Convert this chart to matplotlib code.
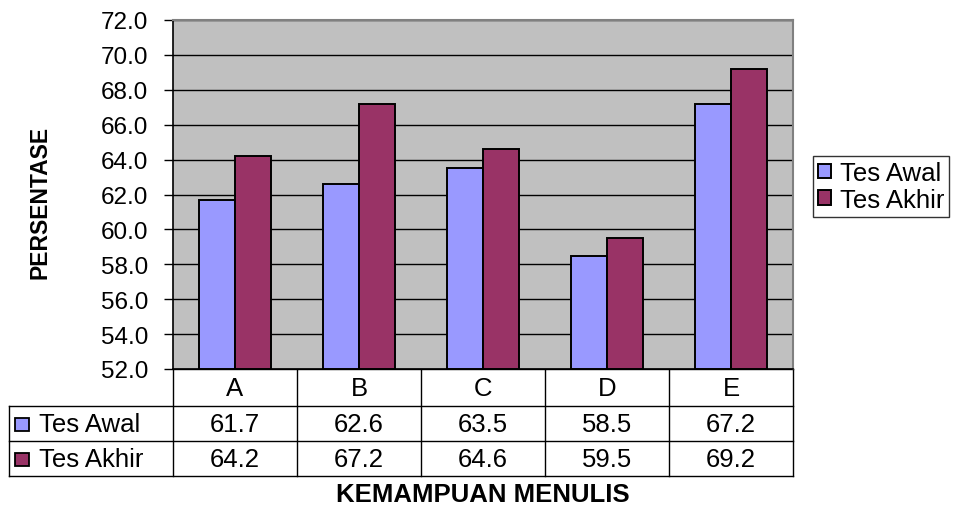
import matplotlib
matplotlib.use("Agg")
import matplotlib.pyplot as plt
import numpy as np

plt.rcParams["font.family"] = ["Liberation Sans", "DejaVu Sans"]

categories = ["A", "B", "C", "D", "E"]
series_names = ["Tes Awal", "Tes Akhir"]
tes_awal = [61.7, 62.6, 63.5, 58.5, 67.2]
tes_akhir = [64.2, 67.2, 64.6, 59.5, 69.2]
yticks = np.arange(52.0, 72.01, 2.0)
colors = ["#9999FF", "#993366"]

W, H = 979, 506
fig = plt.figure(figsize=(W / 100, H / 100), dpi=100)

# plot area in pixels
PL, PR, PT, PB = 173, 793, 21, 370
ax = fig.add_axes([PL / W, 1 - PB / H, (PR - PL) / W, (PB - PT) / H])
ax.set_facecolor("#C0C0C0")
ax.set_xlim(-0.5, len(categories) - 0.5)
ax.set_ylim(52, 72)
ax.set_yticks(yticks)
ax.set_yticklabels([f"{v:.1f}" for v in yticks], fontsize=17.5)
ax.yaxis.grid(True, color="black", lw=1.0)
ax.set_axisbelow(True)
ax.set_xticks([])
ax.tick_params(axis="y", length=6.5, width=1, pad=11.5, direction="out")
for s in ("top", "right"):
    ax.spines[s].set_color("#808080")
    ax.spines[s].set_linewidth(1.5)
ax.spines["left"].set_linewidth(1.2)
ax.spines["bottom"].set_linewidth(1.2)

x = np.arange(len(categories))
bw = 0.29
for i, (vals, c, name) in enumerate(zip([tes_awal, tes_akhir], colors, series_names)):
    ax.bar(x + (i - 0.5) * bw, [v - 52 for v in vals], bw, bottom=52, color=c,
           edgecolor="black", lw=1.4, label=name, zorder=3)

ax.set_ylabel("PERSENTASE", fontsize=16.5, fontweight="bold")
ax.yaxis.set_label_coords((51 - PL) / (PR - PL), 1 - (202 - PT) / (PB - PT))

leg = ax.legend(loc="upper left", bbox_to_anchor=(813 / W, 1 - 157 / H),
                bbox_transform=fig.transFigure, fontsize=18.5,
                frameon=True, fancybox=False, edgecolor="black", handlelength=0.5,
                handleheight=0.5, handletextpad=0.35, borderpad=0.2, labelspacing=0.1,
                borderaxespad=0)
leg.get_frame().set_linewidth(1.0)

# data table below the plot, drawn in pixel coords
tx = fig.add_axes([0, 0, 1, 1], zorder=-1)
tx.set_xlim(0, W); tx.set_ylim(H, 0); tx.axis("off")
TL = 9
rows = [370, 407, 442, 477]
cw = (PR - PL) / len(categories)
cols = [PL + k * cw for k in range(len(categories) + 1)]
lc = "black"; lw = 1.0
tx.plot([PL, PR], [rows[0], rows[0]], color=lc, lw=lw)
for cx in cols:
    tx.plot([cx, cx], [rows[0], rows[3]], color=lc, lw=lw)
for ry in rows[1:]:
    tx.plot([TL, PR], [ry, ry], color=lc, lw=lw)
tx.plot([TL, TL], [rows[1], rows[3]], color=lc, lw=lw)
for k, cat in enumerate(categories):
    tx.text((cols[k] + cols[k + 1]) / 2, (rows[0] + rows[1]) / 2 + 1, cat,
            ha="center", va="center", fontsize=18.5)
for r, (vals, c, name) in enumerate(zip([tes_awal, tes_akhir], colors, series_names)):
    yc = (rows[r + 1] + rows[r + 2]) / 2 + 1
    tx.add_patch(plt.Rectangle((15, yc - 6.5), 14, 13, fc=c, ec="black", lw=1.3))
    tx.text(39, yc, name, ha="left", va="center", fontsize=18.5)
    for k, v in enumerate(vals):
        tx.text((cols[k] + cols[k + 1]) / 2, yc, f"{v:.1f}", ha="center",
                va="center", fontsize=18.5)

tx.text((PL + PR) / 2, 495, "KEMAMPUAN MENULIS", ha="center", va="center",
        fontsize=18.5, fontweight="bold")

fig.savefig("out.png", dpi=100, facecolor="white")
